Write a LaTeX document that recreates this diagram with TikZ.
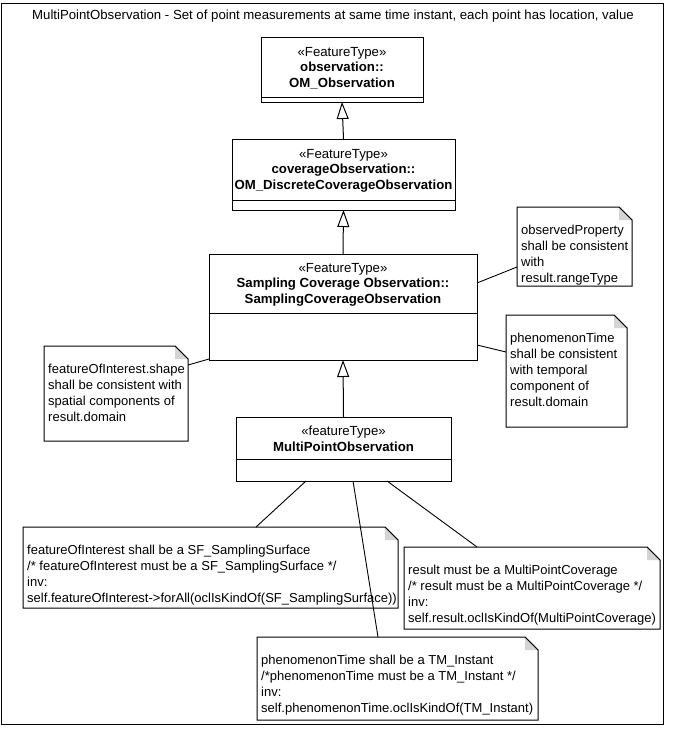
\documentclass[tikz,border=0pt]{standalone}
\usepackage{fontspec}
\setmainfont{Liberation Sans}
\usetikzlibrary{arrows.meta,calc}
\definecolor{foldgray}{RGB}{212,212,212}
\newcommand\umlclass[7]{%
  \node[classbox, minimum width={#4-#2}, minimum height={#6-#3}, anchor=north west] (#1) at (#2,#3) {};
  \draw[boxline] (#2,#5) -- (#4,#5);
  \node[classtext] (#1-name) at ({(#2+#4)/2},{(#3+#5)/2+1}) {#7};
}
\newcommand\umlnote[6]{%
  \node[notebg, minimum width={#4-#2}, minimum height={#5-#3}, anchor=north west] (#1) at (#2,#3) {};
  \filldraw[fill=white, boxline] (#1.north west) -- ($(#1.north east)+(-13,0)$) -- ($(#1.north east)+(0,13)$) -- (#1.south east) -- (#1.south west) -- cycle;
  \fill[foldgray] ($(#1.north east)+(-13,0)$) -- ($(#1.north east)+(-13,13)$) -- ($(#1.north east)+(0,13)$) -- cycle;
  \draw[boxline] ($(#1.north east)+(-13,0)$) -- ($(#1.north east)+(0,13)$);
  \node[notetext] (#1-text) at ($(#1.north west)+(4,17.5)$) {#6};
}
\begin{document}
\begin{tikzpicture}[x=1pt,y=-1pt,
  every node/.style={font=\fontsize{13.2}{15.5}\selectfont},
  boxline/.style={line width=1pt},
  classbox/.style={rectangle, draw, fill=white, line width=1pt, inner sep=0pt, outer sep=0pt},
  classtext/.style={align=center, inner sep=0pt, font=\fontsize{13.2}{15.5}\selectfont},
  notebg/.style={rectangle, inner sep=0pt, outer sep=0pt},
  notetext/.style={align=left, inner sep=0pt, anchor=north west, font=\fontsize{13}{16}\selectfont},
  genline/.style={line width=1pt, -{Triangle[open, length=17pt, width=12pt, line width=1pt]}},
  noteline/.style={line width=0.9pt}
]
\useasboundingbox (0,0) rectangle (673,736);
\draw[boxline] (1,3) rectangle (663,724);
\node (title) at (333,16) {MultiPointObservation - Set of point measurements at same time instant, each point has location, value};

\umlclass{b1}{261}{37}{423}{97}{102}{«FeatureType»\\\textbf{observation::}\\\textbf{OM\_Observation}}
\umlclass{b2}{232}{139}{455}{200}{210}{«FeatureType»\\\textbf{coverageObservation::}\\\textbf{OM\_DiscreteCoverageObservation}}
\umlclass{b3}{209}{254}{477}{313}{360}{«FeatureType»\\\textbf{Sampling Coverage Observation::}\\\textbf{SamplingCoverageObservation}}
\umlclass{b4}{236}{417}{451}{459}{481}{«featureType»\\\textbf{MultiPointObservation}}

\umlnote{n1}{517}{207}{632}{286}{observedProperty\\shall be consistent\\with\\result.rangeType}
\umlnote{n2}{506}{315}{627}{427}{phenomenonTime\\shall be consistent\\with temporal\\component of\\result.domain}
\umlnote{nfoi}{44}{346}{188}{441}{featureOfInterest.shape\\shall be consistent with\\spatial components of\\result.domain}
\umlnote{nsf}{23}{527}{398}{608}{featureOfInterest shall be a SF\_SamplingSurface\\/* featureOfInterest must be a SF\_SamplingSurface */\\inv:\\self.featureOfInterest->forAll(oclIsKindOf(SF\_SamplingSurface))}
\umlnote{nres}{404}{547}{660}{629}{result must be a MultiPointCoverage\\/* result must be a MultiPointCoverage */\\inv:\\self.result.oclIsKindOf(MultiPointCoverage)}
\umlnote{ntm}{257}{637}{538}{720}{phenomenonTime shall be a TM\_Instant\\/*phenomenonTime must be a TM\_Instant */\\inv:\\self.phenomenonTime.oclIsKindOf(TM\_Instant)}

\draw[genline] (b2.north) -- (b1.south);
\draw[genline] (b3.north) -- (b2.south);
\draw[genline] (b4.north) -- (b3.south);

\draw[noteline] ($(b3.north east)+(0,29)$) -- ($(n1.north west)+(0,60)$);
\draw[noteline] ($(b3.north east)+(0,91)$) -- ($(n2.north west)+(0,37)$);
\draw[noteline] ($(b3.south west)+(0,-1)$) -- ($(nfoi.north east)+(0,19)$);
\draw[noteline] ($(b4.south west)+(70,0)$) -- ($(nsf.north west)+(233,0)$);
\draw[noteline] ($(b4.south west)+(117,0)$) -- ($(ntm.north west)+(121,0)$);
\draw[noteline] ($(b4.south west)+(151,0)$) -- ($(nres.north west)+(73,0)$);
\end{tikzpicture}
\end{document}
